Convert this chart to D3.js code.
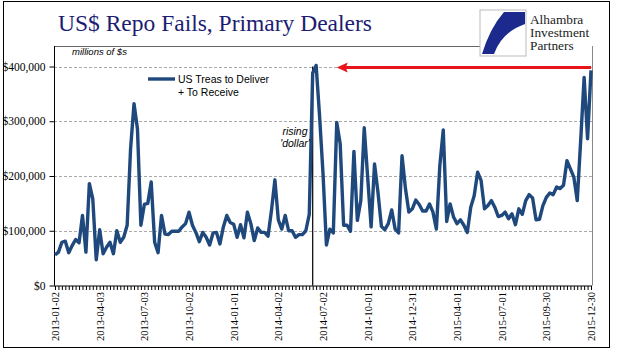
<!DOCTYPE html>
<html><head><meta charset="utf-8">
<script src="https://cdn.jsdelivr.net/npm/d3@7"></script>
<style>
html,body{margin:0;padding:0;background:#fff;}
svg{display:block;}
</style></head>
<body>
<svg id="chart" width="618" height="361"></svg>
<script>
// ---- data ----
const startDate = "2013-01-02";
const seriesName = ["US Treas to Deliver", "+ To Receive"];
// weekly values, millions of $
const fails = [
 56000,61000,79000,81000,60000,73000,84000,78000,128000,61000,
 186000,158000,47000,102000,58000,70000,79000,58000,100000,79000,
 88000,110000,250000,332000,286000,110000,148000,150000,189000,79000,
 60000,128000,94000,93000,99000,99000,99000,107000,113000,134000,
 110000,97000,80000,97000,88000,74000,96000,97000,76000,107000,
 128000,115000,112000,88000,111000,87000,134000,113000,82000,105000,
 97000,97000,90000,137000,193000,120000,103000,128000,100000,100000,
 88000,93000,93000,100000,130000,388000,402000,310000,205000,74000,
 103000,96000,298000,259000,110000,110000,99000,245000,119000,155000,
 288000,198000,107000,222000,170000,108000,102000,113000,138000,103000,
 96000,237000,177000,134000,140000,156000,148000,136000,136000,149000,
 134000,103000,219000,284000,117000,149000,125000,113000,120000,110000,
 97000,143000,164000,207000,192000,140000,146000,155000,143000,126000,
 128000,134000,122000,131000,111000,140000,130000,155000,166000,160000,
 120000,121000,146000,161000,169000,166000,180000,177000,183000,228000,
 213000,198000,155000,265000,380000,268000,393000
];
const tickLabels = ["2013-01-02","2013-04-03","2013-07-03","2013-10-02","2014-01-01","2014-04-02",
  "2014-07-02","2014-10-01","2014-12-31","2015-04-01","2015-07-01","2015-09-30","2015-12-30"];
const yTicks = [0,100000,200000,300000,400000];
const markerDate = "2014-06-11";     // rising 'dollar' line
const arrowLevel = 400000;           // red arrow level
const arrowFrom = "2015-12-30", arrowTo = "2014-07-30";
const logoLines = ["Alhambra","Investment","Partners"];

// ---- build ----
const parse = d3.timeParse("%Y-%m-%d"), fmt = d3.timeFormat("%Y-%m-%d");
const dates = fails.map((v,i)=>fmt(d3.timeDay.offset(parse(startDate), 7*i)));
const data = fails.map((v,i)=>({date:dates[i], value:v}));

const svg = d3.select("#chart");
const L=54, R=592, T=46, B=285.5;
const x = d3.scalePoint().domain(dates).range([55, 591]);
const y = d3.scaleLinear().domain([0,400000]).range([B, 66.5]);

// outer frame
svg.append("rect").attr("x",3.5).attr("y",1.5).attr("width",606).attr("height",346)
  .attr("fill","#fff").attr("stroke","#000").attr("stroke-width",1);

// title
svg.append("text").attr("x",58).attr("y",31).text("US$ Repo Fails, Primary Dealers")
  .attr("font-family","Liberation Serif, serif").attr("font-size",23.5).attr("fill","#1c1c72");

// gridlines
svg.append("g").selectAll("line").data(yTicks.filter(d=>d>0)).join("line")
  .attr("x1",L).attr("x2",R).attr("y1",d=>Math.round(y(d))+0.5).attr("y2",d=>Math.round(y(d))+0.5)
  .attr("stroke","#aaa").attr("stroke-width",1).attr("stroke-dasharray","3,2");

// plot borders
svg.append("line").attr("x1",L).attr("x2",490).attr("y1",T+0.5).attr("y2",T+0.5).attr("stroke","#666");
svg.append("line").attr("x1",R+0.5).attr("x2",R+0.5).attr("y1",T).attr("y2",B).attr("stroke","#888");

// y axis
const yAxis = svg.append("g").attr("transform",`translate(${L+0.5},0)`)
  .call(d3.axisLeft(y).tickValues(yTicks).tickSize(5).tickFormat(d=>"$"+d3.format(",")(d)));
yAxis.select(".domain").attr("d",`M0,${T}V${B}`).attr("stroke","#000");
yAxis.selectAll("text").attr("font-family","Liberation Serif, serif").attr("font-size",11.5).attr("fill","#000").attr("dx",-1);

// x axis
const xAxis = svg.append("g").attr("transform",`translate(0,${B+0.5})`)
  .call(d3.axisBottom(x).tickSize(4).tickFormat(d=>tickLabels.includes(d)?d:""));
xAxis.select(".domain").attr("d",`M${L},0H${R}`).attr("stroke","#000");
xAxis.selectAll("text").attr("font-family","Liberation Serif, serif").attr("font-size",10.5)
  .attr("fill","#000").attr("text-anchor","end").attr("dy","0.32em").attr("dx",0)
  .attr("transform","rotate(-90)").attr("x",-6).attr("y",0);

// marker line
svg.append("line").attr("x1",x(markerDate)).attr("x2",x(markerDate))
  .attr("y1",y(arrowLevel)).attr("y2",B).attr("stroke","#000").attr("stroke-width",1.2);

// data line
svg.append("path").datum(data).attr("fill","none").attr("stroke","#1f497d")
  .attr("stroke-width",3.4).attr("stroke-linejoin","round")
  .attr("d",d3.line().x(d=>x(d.date)).y(d=>y(d.value)));

// red arrow
const ay = y(arrowLevel)+1, ax1 = x(arrowTo)+0, ax2 = x(arrowFrom);
svg.append("line").attr("x1",ax1+8).attr("x2",ax2).attr("y1",ay).attr("y2",ay)
  .attr("stroke","#e8141a").attr("stroke-width",3.2);
svg.append("path").attr("d",`M${ax1},${ay}L${ax1+11},${ay-5}L${ax1+9},${ay}L${ax1+11},${ay+5}Z`).attr("fill","#e8141a");

// legend
svg.append("line").attr("x1",148).attr("x2",175).attr("y1",79).attr("y2",79)
  .attr("stroke","#1f497d").attr("stroke-width",3.4);
svg.append("text").attr("x",178).attr("y",83).text(seriesName[0])
  .attr("font-family","Liberation Sans, Arial, sans-serif").attr("font-size",10.5).attr("fill","#000");
svg.append("text").attr("x",178).attr("y",96).text(seriesName[1])
  .attr("font-family","Liberation Sans, Arial, sans-serif").attr("font-size",10.5).attr("fill","#000");

// annotations
svg.append("text").attr("x",72).attr("y",55).text("millions of $s")
  .attr("font-family","Liberation Sans, Arial, sans-serif").attr("font-style","italic").attr("font-size",9.5);
svg.append("text").attr("x",295).attr("y",135).attr("text-anchor","middle").text("rising")
  .attr("font-family","Liberation Sans, Arial, sans-serif").attr("font-style","italic").attr("font-size",10.5);
svg.append("text").attr("x",295).attr("y",147).attr("text-anchor","middle").text("'dollar'")
  .attr("font-family","Liberation Sans, Arial, sans-serif").attr("font-style","italic").attr("font-size",10.5);

// logo
const lg = svg.append("g").attr("transform","translate(480,10)");
lg.append("rect").attr("x",0).attr("y",0).attr("width",46).attr("height",46).attr("fill","#fff").attr("stroke","#bbb");
lg.append("path").attr("d","M45,2 L24,2 Q10,18 2,44 L14,44 Q22,22 45,14 Z").attr("fill","#1b2a8c");
const lt = svg.append("g").attr("font-family","Liberation Serif, serif").attr("font-size",11.8).attr("fill","#222");
logoLines.forEach((t,i)=>{
  lt.append("text").attr("transform",`translate(530,${23.5+13.4*i}) scale(1.13,1)`).attr("x",0).attr("y",0).text(t);
});
</script>
</body></html>
